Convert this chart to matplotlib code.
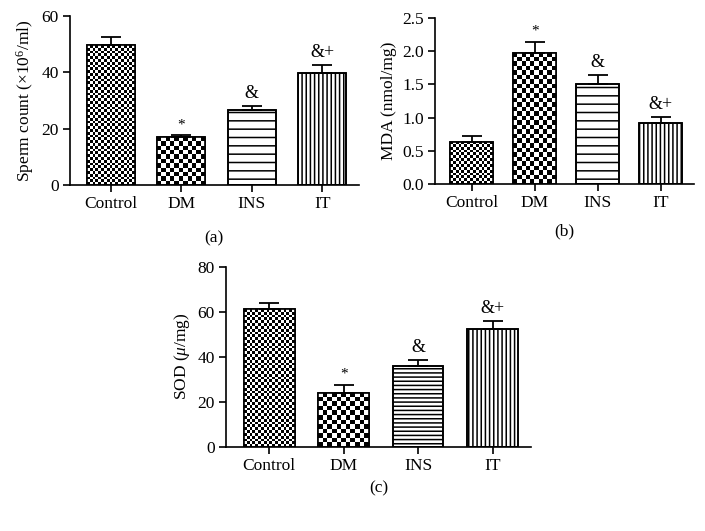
import numpy as np
import matplotlib
matplotlib.use('Agg')
import matplotlib.pyplot as plt

plt.rcParams['font.family'] = ['Liberation Serif', 'DejaVu Serif']
plt.rcParams['mathtext.fontset'] = 'custom'
plt.rcParams['mathtext.rm'] = 'Liberation Serif'
plt.rcParams['mathtext.it'] = 'Liberation Serif:italic'
plt.rcParams['hatch.linewidth'] = 1.1

groups = ['Control', 'DM', 'INS', 'IT']
marks = ['', '*', '&', '&+']

sperm_mean = [49.7, 17.0, 26.5, 39.8]
sperm_err = [2.8, 0.6, 1.5, 2.7]
mda_mean = [0.64, 1.97, 1.51, 0.92]
mda_err = [0.08, 0.17, 0.13, 0.09]
sod_mean = [61.0, 24.0, 36.0, 52.3]
sod_err = [2.8, 3.5, 2.5, 3.5]

panels = [
    dict(rect=[0.099, 0.652, 0.410, 0.318], mean=sperm_mean, err=sperm_err,
         ylabel='Sperm count ($\\times$10$^6$/ml)', ymax=60, yticks=[0, 20, 40, 60],
         fmt='{:.0f}', label='(a)', label_y=0.551, hline='--'),
    dict(rect=[0.617, 0.653, 0.367, 0.314], mean=mda_mean, err=mda_err,
         ylabel='MDA (nmol/mg)', ymax=2.5, yticks=[0, 0.5, 1.0, 1.5, 2.0, 2.5],
         fmt='{:.1f}', label='(b)', label_y=0.565, hline='--'),
    dict(rect=[0.3206, 0.159, 0.433, 0.339], mean=sod_mean, err=sod_err,
         ylabel='SOD ($\\mathit{\\mu}$/mg)', ymax=80, yticks=[0, 20, 40, 60, 80],
         fmt='{:.0f}', label='(c)', label_y=0.081, hline='----'),
]

fig = plt.figure(figsize=(7.05, 5.31), dpi=100)
x = np.arange(len(groups))
width = 0.68


def checker_fill(ax, bar, cell_px):
    x0, y0 = bar.get_x(), bar.get_y()
    w, h = bar.get_width(), bar.get_height()
    p0 = ax.transData.transform((x0, y0))
    p1 = ax.transData.transform((x0 + w, y0 + h))
    ncol = max(1, int(round((p1[0] - p0[0]) / cell_px)))
    nrow = max(1, int(round((p1[1] - p0[1]) / cell_px)))
    grid = np.add.outer(np.arange(nrow), np.arange(ncol)) % 2
    im = ax.imshow(grid, cmap='gray', extent=(x0, x0 + w, y0, y0 + h), origin='lower',
                   interpolation='nearest', aspect='auto', zorder=2)
    im.set_clip_path(bar)


for p in panels:
    ax = fig.add_axes(p['rect'])
    ax.set_xlim(-0.58, 3.52)
    ax.set_ylim(0, p['ymax'])
    bars = ax.bar(x, p['mean'], width, color='white', edgecolor='black', linewidth=1.2, zorder=1)
    checker_fill(ax, bars[0], 2.8)
    checker_fill(ax, bars[1], 4.5)
    bars[2].set_hatch(p['hline'])
    bars[3].set_hatch('||||')
    ax.bar(x, p['mean'], width, facecolor='none', edgecolor='black', linewidth=1.2, zorder=3)
    ax.errorbar(x, p['mean'], yerr=[np.zeros(4), p['err']], fmt='none', ecolor='black',
                elinewidth=1.3, capsize=7.5, capthick=1.3, zorder=4)
    for xi, m, e, s in zip(x, p['mean'], p['err'], marks):
        if s:
            ax.annotate(s, (xi, m + e), xytext=(0, 3), textcoords='offset points',
                        ha='center', va='bottom', fontsize=13 if s != '*' else 11)
    ax.set_xlim(-0.58, 3.52)
    ax.set_ylim(0, p['ymax'])
    ax.spines['top'].set_visible(False)
    ax.spines['right'].set_visible(False)
    for sp in ['left', 'bottom']:
        ax.spines[sp].set_linewidth(1.2)
    ax.set_xticks(x)
    ax.set_xticklabels(groups, fontsize=12.5)
    ax.set_yticks(p['yticks'])
    ax.set_yticklabels([p['fmt'].format(v) for v in p['yticks']], fontsize=12.5)
    ax.tick_params(axis='both', length=5, width=1.2, direction='out', pad=3)
    ax.set_ylabel(p['ylabel'], fontsize=12.5, labelpad=4)
    r = p['rect']
    fig.text(r[0] + r[2] / 2, p['label_y'], p['label'], ha='center', va='center', fontsize=12.5)

plt.savefig('out.png', dpi=100)
plt.close()
